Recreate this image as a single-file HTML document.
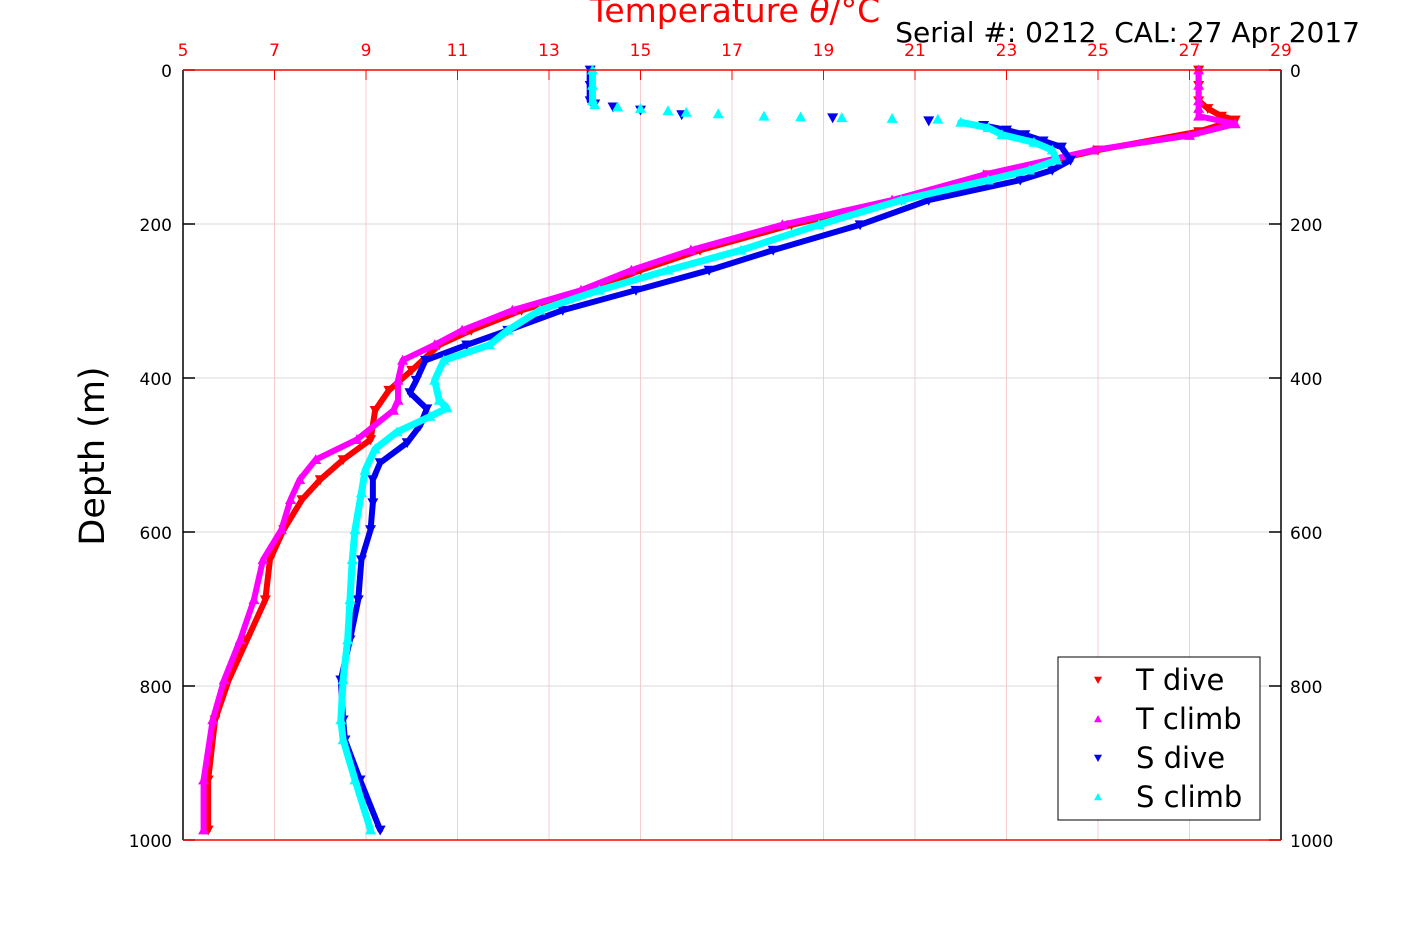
<!DOCTYPE html>
<html><head><meta charset="utf-8"><style>
html,body{margin:0;padding:0;background:#fff;}
svg{display:block;font-family:"DejaVu Sans","Liberation Sans",sans-serif;}
</style></head><body>
<svg id="chart" width="1417" height="945" viewBox="0 0 1417 945" xmlns="http://www.w3.org/2000/svg">
<rect x="0" y="0" width="1417" height="945" fill="#fff"/>
<g id="grid"></g>
<g id="series"></g>
<g id="axes"></g>
<text x="735" y="22" font-size="33" fill="#ff0000" text-anchor="middle">Temperature <tspan font-style="italic">θ</tspan>/°C</text>
<text x="1360" y="42" font-size="28" fill="#000" text-anchor="end" xml:space="preserve">Serial #: 0212  CAL: 27 Apr 2017</text>
<text transform="translate(104,456) rotate(-90)" font-size="35" fill="#000" text-anchor="middle">Depth (m)</text>
<g id="legend">
<rect x="1058" y="657" width="202" height="163" fill="#fff" stroke="#000" stroke-width="1"/>
</g>
</svg>
<script>
const xTicks=[5,7,9,11,13,15,17,19,21,23,25,27,29];
const yTicks=[0,200,400,600,800,1000];
const seriesNames=["T dive","T climb","S dive","S climb"];
const seriesColors=["#ff0000","#ff00ff","#0000ee","#00ffff"];
const tDiveDepth=[0,20,40,50,60,65,80,104,136,169,201,234,260,286,312,338,357,390,416,442,480,506,532,558,597,636,688,740,792,844,922,987];
const tDiveTemp=[27.2,27.2,27.2,27.4,27.7,28.0,27.2,25.0,22.6,20.7,18.3,16.3,15.0,13.9,12.4,11.3,10.6,10.0,9.5,9.2,9.1,8.5,8.0,7.6,7.2,6.9,6.8,6.4,6.0,5.7,5.55,5.55];
const tClimbDepth=[0,20,40,50,60,70,85,104,136,169,201,234,260,286,312,338,357,377,403,429,442,480,506,532,558,597,636,688,740,792,844,922,987];
const tClimbTemp=[27.2,27.2,27.2,27.2,27.2,28.0,27.0,24.9,22.5,20.5,18.1,16.1,14.8,13.7,12.2,11.1,10.5,9.8,9.7,9.7,9.6,8.8,7.9,7.55,7.35,7.15,6.75,6.55,6.25,5.9,5.65,5.45,5.45];
const sDiveDepth=[0,20,40,44,48,52,58,62,66,72,78,84,92,100,117,130,143,169,201,234,260,286,312,338,357,377,403,419,440,462,484,510,532,562,597,636,688,740,792,844,870,922,987];
const sDiveTemp=[13.9,13.9,13.9,14.0,14.4,15.0,15.9,19.2,21.3,22.5,23.0,23.4,23.8,24.2,24.4,24.0,23.3,21.3,19.8,17.9,16.5,14.9,13.3,12.1,11.2,10.3,10.1,9.96,10.33,10.18,9.9,9.31,9.15,9.15,9.1,8.9,8.83,8.65,8.45,8.5,8.54,8.87,9.31];
const sClimbDepth=[0,20,40,45,48,50,53,55,57,60,61,62,63,64,68,75,84,94,104,117,130,143,169,201,234,260,286,312,338,357,377,403,429,439,450,470,492,520,549,597,636,688,740,792,844,870,922,987];
const sClimbTemp=[13.95,13.95,13.95,14.0,14.5,15.0,15.6,16.0,16.7,17.7,18.5,19.4,20.5,21.5,22.0,22.6,22.9,23.6,24.0,24.1,23.5,22.6,20.7,18.9,17.2,15.6,14.1,12.8,12.1,11.7,10.7,10.5,10.6,10.77,10.4,9.68,9.2,8.98,8.9,8.76,8.7,8.65,8.6,8.5,8.45,8.5,8.76,9.1];
const depthArrays=[tDiveDepth,tClimbDepth,sDiveDepth,sClimbDepth];
const tempArrays=[tDiveTemp,tClimbTemp,sDiveTemp,sClimbTemp];
const lineStart=[0,0,9,14]; // style: where the continuous marker chain begins

const X0=183,X1=1281,Y0=70,Y1=840;
function xs(v){return X0+(v-5)/(29-5)*(X1-X0);}
function ys(d){return Y0+d/1000*(Y1-Y0);}
const NS="http://www.w3.org/2000/svg";
function mk(tag,attrs,parent){const e=document.createElementNS(NS,tag);for(const k in attrs)e.setAttribute(k,attrs[k]);parent.appendChild(e);return e;}
const grid=document.getElementById('grid'),axes=document.getElementById('axes'),ser=document.getElementById('series'),leg=document.getElementById('legend');
xTicks.forEach(t=>{
  const x=xs(t);
  if(t>5&&t<29){const g=mk('line',{x1:x,x2:x,y1:Y0,y2:Y1,stroke:'#f6cccc','stroke-width':1},grid);
  
  }
  mk('line',{x1:x,x2:x,y1:Y0,y2:Y0+10,stroke:'#ff0000','stroke-width':1},axes);
  const l=mk('text',{x:x,y:56,'font-size':17,fill:'#ff0000','text-anchor':'middle'},axes);
  l.textContent=t;
  
  
});
yTicks.forEach(t=>{
  const y=ys(t);
  if(t>0&&t<1000){const g=mk('line',{x1:X0,x2:X1,y1:y,y2:y,stroke:'#d8d8d8','stroke-width':1},grid);
  
  }
  mk('line',{x1:X0,x2:X0+12,y1:y,y2:y,stroke:'#000','stroke-width':1.5},axes);
  mk('line',{x1:X1-12,x2:X1,y1:y,y2:y,stroke:'#000','stroke-width':1.5},axes);
  const l=mk('text',{x:172,y:y+7,'font-size':17,fill:'#000','text-anchor':'end'},axes);
  l.textContent=t;
  
  
  const r=mk('text',{x:1290,y:y+7,'font-size':17,fill:'#000','text-anchor':'start'},axes);
  r.textContent=t;
  
  
});
mk('line',{x1:X0,x2:X0,y1:Y0,y2:Y1,stroke:'#000','stroke-width':1.5},axes);
mk('line',{x1:X1,x2:X1,y1:Y0,y2:Y1,stroke:'#000','stroke-width':1.5},axes);
mk('line',{x1:X0,x2:X1,y1:Y0,y2:Y0,stroke:'#ff0000','stroke-width':1.5},axes);
mk('line',{x1:X0,x2:X1,y1:Y1,y2:Y1,stroke:'#ff0000','stroke-width':1.5},axes);

function tri(x,y,down,s){return down?`${x-s},${y-s*0.8} ${x+s},${y-s*0.8} ${x},${y+s}`:`${x-s},${y+s*0.8} ${x+s},${y+s*0.8} ${x},${y-s}`;}
[0,1,2,3].forEach(i=>{
  const g=mk('g',{},ser);
  
  
  const d0=depthArrays[i],t0=tempArrays[i];
  const pre=d0.slice(0,4).map((d,j)=>xs(t0[j])+','+ys(d)).join(' ');
  if(lineStart[i]>0){
    const p0=mk('polyline',{points:pre,fill:'none',stroke:seriesColors[i],'stroke-width':7,'stroke-linejoin':'round'},g);
    
    
  }
  const pts=d0.map((d,j)=>xs(t0[j])+','+ys(d)).slice(lineStart[i]).join(' ');
  const pl=mk('polyline',{points:pts,fill:'none',stroke:seriesColors[i],'stroke-width':(i==3?7:6),'stroke-linejoin':'round','stroke-linecap':'round'},g);
  
  
  d0.forEach((d,j)=>{
    const m=mk('polygon',{points:tri(xs(t0[j]),ys(d),i%2==0,5.5),fill:seriesColors[i]},g);
    
    
  });
});
[0,1,2,3].forEach(i=>{
  const y=680+i*39;
  const m=mk('polygon',{points:tri(1098,y,i%2==0,4),fill:seriesColors[i]},leg);
  
  
  const t=mk('text',{x:1136,y:y+10,'font-size':29,fill:'#000'},leg);
  t.textContent=seriesNames[i];
  
  
});
</script>
</body></html>
